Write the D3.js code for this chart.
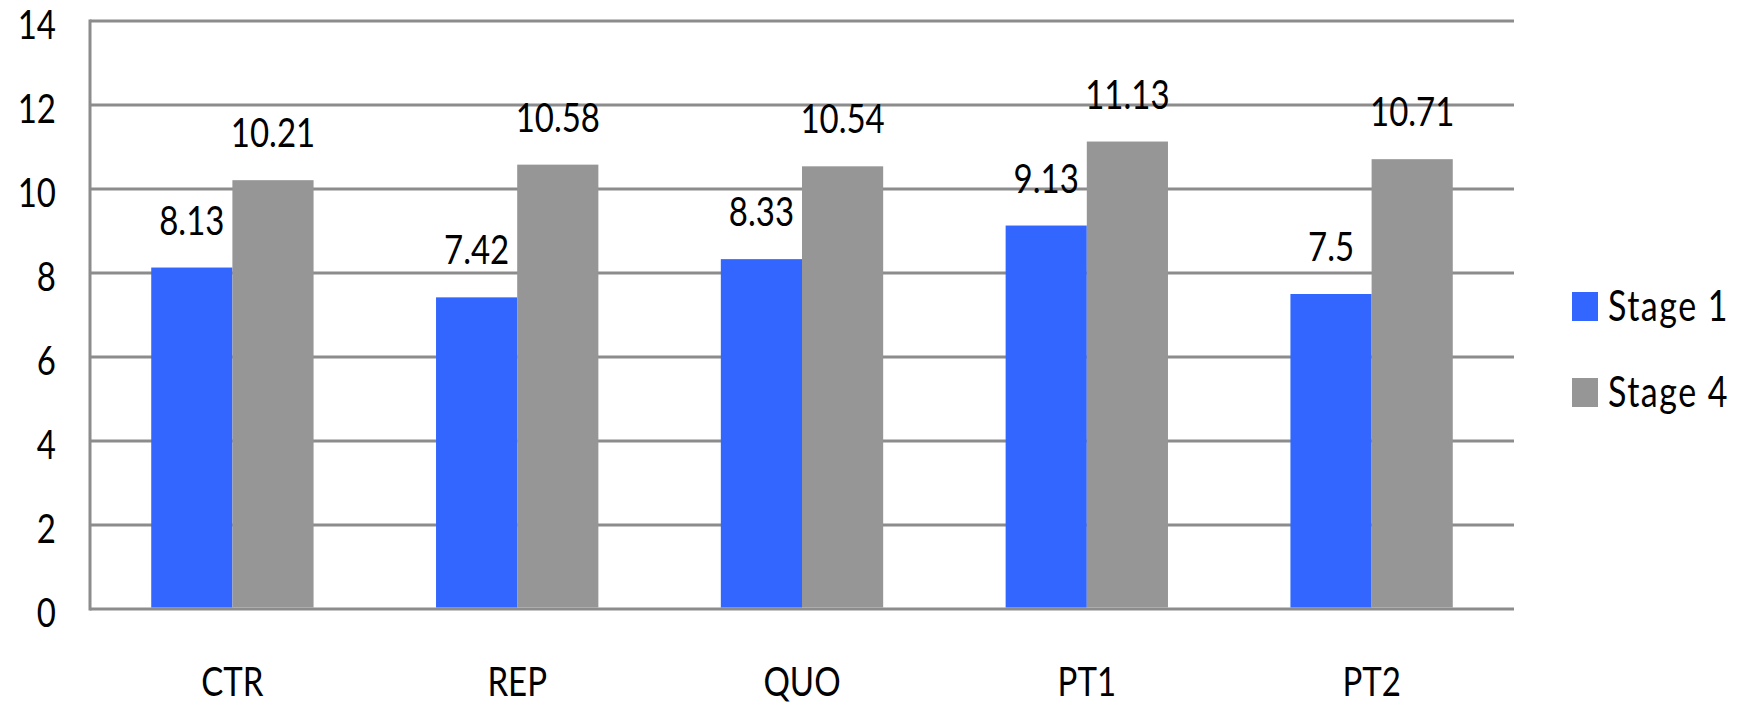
<!DOCTYPE html>
<html>
<head>
<meta charset="utf-8">
<script src="https://cdn.jsdelivr.net/npm/d3@7"></script>
<style>
  html, body { margin: 0; padding: 0; background: #fff; }
  svg { display: block; }
  text { font-family: Lato, "Open Sans", sans-serif; fill: #000; }
</style>
</head>
<body>
<svg id="chart" width="1746" height="704"></svg>
<script>
// Chart data
const categories = ["CTR", "REP", "QUO", "PT1", "PT2"];
const seriesNames = ["Stage 1", "Stage 4"];
const stage1 = [8.13, 7.42, 8.33, 9.13, 7.5];
const stage4 = [10.21, 10.58, 10.54, 11.13, 10.71];
const yTicks = [0, 2, 4, 6, 8, 10, 12, 14];
const colors = ["#3366ff", "#969696"];

const svg = d3.select("#chart");
const plot = { left: 90, right: 1514, top: 21, bottom: 609 };
const FONT = 33, STRETCH = 1.25;

const x0 = d3.scaleBand().domain(categories)
  .range([plot.left, plot.right]).paddingInner(0.43).paddingOuter(0.215);
const x1 = d3.scaleBand().domain(seriesNames).range([0, x0.bandwidth()]);
const y = d3.scaleLinear().domain([0, 14]).range([plot.bottom, plot.top]);

// Text helper: vertically stretched glyphs
function label(g, x, yy, str, anchor) {
  g.append("text")
    .attr("transform", `translate(${x},${yy}) scale(1,${STRETCH})`)
    .attr("text-anchor", anchor)
    .attr("font-size", FONT)
    .text(str);
}

// Gridlines
const grid = svg.append("g");
grid.selectAll("line").data(yTicks).join("line")
  .attr("x1", plot.left).attr("x2", plot.right)
  .attr("y1", d => y(d)).attr("y2", d => y(d))
  .attr("stroke", "#8c8c8c").attr("stroke-width", 3);
// Left axis line
svg.append("line")
  .attr("x1", plot.left).attr("x2", plot.left)
  .attr("y1", plot.top - 1.5).attr("y2", plot.bottom + 1.5)
  .attr("stroke", "#8c8c8c").attr("stroke-width", 3);

// Y tick labels
const yl = svg.append("g");
yTicks.forEach(t => label(yl, 56, y(t) + 18, String(t), "end"));

// Bars
const rows = categories.map((c, i) => ({ cat: c, vals: [stage1[i], stage4[i]] }));
const groups = svg.append("g").selectAll("g").data(rows).join("g")
  .attr("transform", d => `translate(${x0(d.cat)},0)`);
groups.selectAll("rect")
  .data(d => d.vals.map((v, k) => ({ name: seriesNames[k], v, k })))
  .join("rect")
  .attr("x", d => x1(d.name))
  .attr("width", x1.bandwidth())
  .attr("y", d => y(d.v))
  .attr("height", d => y(0) - y(d.v) - 1.5)
  .attr("fill", d => colors[d.k]);

// Value labels
const vl = svg.append("g");
rows.forEach(r => {
  r.vals.forEach((v, k) => {
    const cx = x0(r.cat) + x1(seriesNames[k]) + x1.bandwidth() / 2;
    label(vl, cx, y(v) - 33, String(v), "middle");
  });
});

// Category labels
const cl = svg.append("g");
categories.forEach(c => label(cl, x0(c) + x0.bandwidth() / 2, 696, c, "middle"));

// Legend
const lg = svg.append("g");
seriesNames.forEach((s, k) => {
  const ly = 292 + k * 86;
  lg.append("rect").attr("x", 1572).attr("y", ly).attr("width", 26).attr("height", 29)
    .attr("fill", colors[k]);
  lg.append("text")
    .attr("transform", `translate(1608,${ly + 29}) scale(1,${STRETCH})`)
    .attr("font-size", FONT + 1).attr("letter-spacing", 1.5)
    .text(s);
});
</script>
</body>
</html>
